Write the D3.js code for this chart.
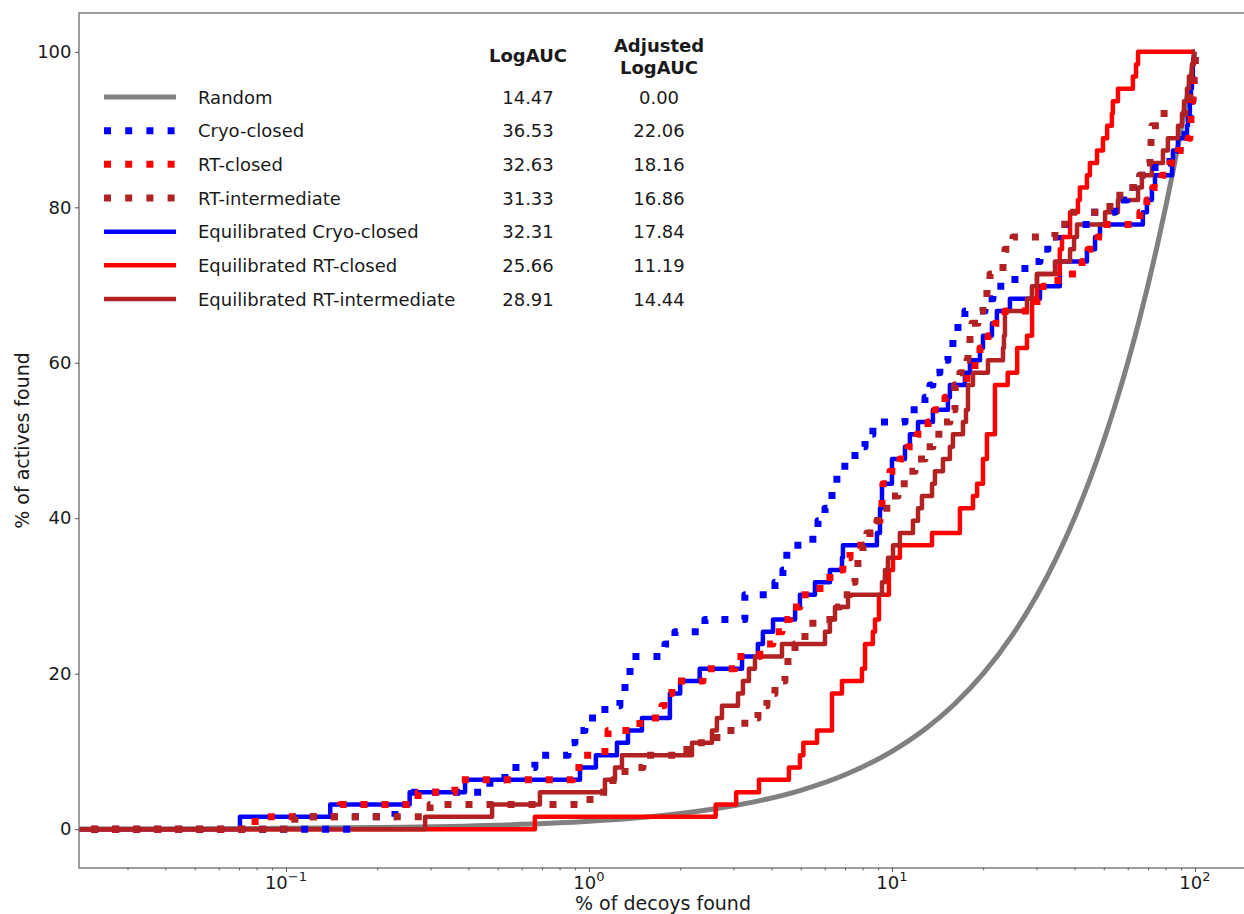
<!DOCTYPE html>
<html><head><meta charset="utf-8">
<script src="https://cdn.jsdelivr.net/npm/d3@7"></script>
<style>body{margin:0;background:#fff} svg{display:block} text{font-family:"DejaVu Sans",sans-serif;fill:#1a1a1a}</style>
</head><body><svg id="c" width="1244" height="914"></svg>
<script>
// ---------- data ----------
const seriesNames = ["Random","Cryo-closed","RT-closed","RT-intermediate","Equilibrated Cryo-closed","Equilibrated RT-closed","Equilibrated RT-intermediate"];
const logAUC = ["14.47","36.53","32.63","31.33","32.31","25.66","28.91"];
const adjLogAUC = ["0.00","22.06","18.16","16.86","17.84","11.19","14.44"];
const xTickValues = [0.1, 1, 10, 100];
const xTickExps = ["\u22121", "0", "1", "2"];
const yTickValues = [0, 20, 40, 60, 80, 100];

// Random: % actives equals % decoys
const randomCurve = [[0.0194,0.0194],[0.05,0.05],[0.1,0.1],[0.2,0.2],[0.5,0.5],[1,1],[2,2],[3,3],[5,5],[7,7],[10,10],[13,13],[16,16],[20,20],[25,25],[30,30],[35,35],[40,40],[45,45],[50,50],[55,55],[60,60],[65,65],[70,70],[75,75],[80,80],[85,85],[90,90],[95,95],[100,100]];

const cryoClosed = [[0.0194,0],[0.163,1.59],[0.229,3.17],[0.256,4.76],[0.471,6.35],[0.528,7.94],[0.663,9.52],[0.853,11.11],[0.899,12.70],[0.970,14.29],[1.129,15.87],[1.265,17.46],[1.315,19.05],[1.366,22.22],[1.782,23.81],[1.922,25.40],[2.414,26.98],[3.27,30.16],[4.11,31.75],[4.366,33.33],[4.498,36.51],[5.483,38.10],[5.70,39.68],[6.012,41.27],[6.34,44.44],[6.58,46.03],[6.99,47.62],[7.55,49.21],[8.15,50.79],[8.65,52.38],[11.04,53.97],[12.85,55.56],[13.35,57.14],[13.65,58.73],[14.39,60.32],[15.30,61.90],[15.89,63.49],[16.51,65.08],[17.41,66.67],[20.27,68.25],[21.54,69.84],[25.46,71.43],[27.47,73.02],[30.8,74.60],[32.7,76.19],[35.3,77.78],[45.0,79.37],[54.4,80.95],[59.7,82.54],[65.8,84.13],[73.8,85.71],[82.7,87.30],[89.2,88.89],[92.7,90.48],[96.2,92.06],[97.7,93.65],[98.4,95.24],[99.2,98.41],[100,100]];

const rtClosed = [[0.0194,0],[0.0791,1.59],[0.151,3.17],[0.273,4.76],[0.361,6.35],[0.885,7.94],[0.955,9.52],[1.129,11.11],[1.156,12.70],[1.473,14.29],[1.741,15.87],[1.769,17.46],[1.879,19.05],[2.378,20.63],[3.034,22.22],[3.665,23.81],[4.045,25.40],[4.335,26.98],[4.603,28.57],[4.966,30.16],[5.785,31.75],[6.24,33.33],[6.887,34.92],[7.27,36.51],[8.46,38.10],[8.92,39.68],[9.13,41.27],[9.27,42.86],[9.34,44.44],[9.85,46.03],[10.62,47.62],[11.29,49.21],[12.1,50.79],[13.15,52.38],[13.86,53.97],[14.96,55.56],[16.14,57.14],[17.68,58.73],[18.79,60.32],[19.52,61.90],[20.74,63.49],[21.87,65.08],[23.6,66.67],[30.1,68.25],[31.5,69.84],[35.3,71.43],[42.4,73.02],[44.4,74.60],[47.8,76.19],[51.3,77.78],[65.8,79.37],[69.4,80.95],[72.6,82.54],[77.8,84.13],[82.7,85.71],[87.9,87.30],[94.8,88.89],[96.2,90.48],[97.0,92.06],[97.7,93.65],[98.4,95.24],[99.2,96.83],[100,100]];

const rtIntermediate = [[0.0194,0],[0.107,1.59],[0.299,3.17],[1.008,4.76],[1.20,6.35],[1.315,7.94],[1.507,9.52],[2.105,11.11],[2.644,12.70],[3.27,14.29],[3.613,15.87],[3.867,17.46],[4.11,19.05],[4.434,20.63],[4.536,22.22],[4.786,23.81],[5.163,25.40],[5.483,26.98],[6.24,28.57],[6.73,30.16],[7.27,31.75],[7.55,33.33],[7.72,34.92],[8.02,36.51],[8.27,38.10],[8.46,39.68],[8.99,41.27],[10.0,42.86],[10.47,44.44],[11.29,46.03],[11.91,47.62],[12.85,49.21],[13.65,50.79],[14.73,52.38],[15.53,53.97],[16.14,57.14],[16.76,58.73],[17.68,60.32],[17.82,61.90],[18.09,63.49],[18.37,65.08],[19.23,66.67],[19.97,68.25],[20.58,69.84],[21.06,71.43],[23.25,73.02],[23.6,74.60],[25.08,76.19],[34.5,77.78],[37.2,79.37],[52.4,80.95],[56.5,82.54],[65.8,84.13],[69.4,85.71],[71.0,87.30],[71.6,88.89],[72.1,90.48],[76.6,92.06],[92.7,93.65],[96.2,95.24],[98.4,96.83],[99.2,98.41],[100,100]];

const eqCryoClosed = [[0.0194,0],[0.0705,1.59],[0.140,3.17],[0.256,4.76],[0.390,6.35],[0.934,7.94],[1.054,9.52],[1.237,11.11],[1.345,12.70],[1.496,14.29],[1.85,17.46],[2.0,19.05],[2.32,20.63],[3.20,22.22],[3.61,23.81],[3.75,25.40],[4.05,26.98],[4.79,28.57],[4.97,30.16],[5.57,31.75],[6.24,33.33],[6.84,34.92],[6.89,36.51],[8.92,38.10],[9.13,41.27],[9.27,44.44],[10.0,47.62],[11.04,49.21],[11.46,50.79],[12.19,52.38],[13.65,53.97],[15.30,55.56],[15.53,57.14],[17.41,58.73],[18.09,60.32],[19.52,61.90],[19.97,63.49],[21.38,65.08],[22.2,66.67],[24.51,68.25],[30.8,69.84],[35.8,73.02],[44.0,74.60],[46.8,76.19],[48.6,77.78],[67.3,79.37],[69.4,80.95],[72.1,82.54],[73.8,84.13],[84.0,85.71],[84.6,87.30],[87.9,88.89],[94.1,90.48],[94.8,92.06],[96.2,93.65],[97.0,95.24],[97.7,96.83],[98.4,98.41],[99.2,100],[100,100]];

const eqRtClosed = [[0.0194,0],[0.663,1.59],[2.62,3.17],[3.06,4.76],[3.64,6.35],[4.57,7.94],[4.97,9.52],[5.10,11.11],[5.66,12.70],[6.34,17.46],[6.84,19.05],[7.96,20.63],[8.15,23.81],[8.65,25.40],[8.79,26.98],[9.06,30.16],[9.77,33.33],[10.08,34.92],[10.62,36.51],[13.56,38.10],[16.76,41.27],[18.51,42.86],[19.1,44.44],[19.97,47.62],[20.58,50.79],[21.87,57.14],[24.1,58.73],[25.9,61.90],[27.9,63.49],[29.0,68.25],[30.1,71.43],[35.8,74.60],[36.4,76.19],[38.7,79.37],[41.1,80.95],[41.7,82.54],[44.0,84.13],[45.0,85.71],[47.5,87.30],[49.7,88.89],[51.3,90.48],[53.2,92.06],[53.6,93.65],[55.7,95.24],[62.4,96.83],[63.9,98.41],[64.9,100],[100,100]];

const eqRtIntermediate = [[0.0194,0],[0.288,1.59],[0.479,3.17],[0.689,4.76],[1.129,6.35],[1.219,7.94],[1.285,9.52],[2.188,11.11],[2.547,12.70],[2.644,14.29],[2.748,15.87],[3.104,17.46],[3.222,19.05],[3.373,20.63],[3.531,22.22],[4.335,23.81],[6.012,25.40],[6.24,26.98],[6.486,28.57],[7.16,30.16],[9.27,31.75],[9.48,33.33],[9.70,34.92],[10.08,36.51],[10.62,38.10],[11.73,39.68],[12.19,41.27],[12.56,42.86],[13.56,44.44],[13.86,46.03],[14.73,47.62],[15.53,49.21],[15.89,50.79],[17.15,52.38],[17.55,53.97],[17.82,57.14],[18.51,58.73],[20.74,60.32],[23.25,61.90],[23.42,63.49],[23.6,66.67],[27.89,68.25],[28.97,69.84],[30.1,71.43],[34.5,73.02],[38.7,74.60],[39.9,76.19],[40.8,77.78],[50.5,79.37],[55.7,80.95],[64.9,82.54],[66.8,84.13],[72.1,85.71],[78.4,87.30],[81.4,88.89],[87.9,90.48],[90.6,92.06],[92.0,93.65],[94.1,95.24],[95.5,96.83],[97.7,98.41],[99.2,100],[100,100]];

// ---------- styles ----------
const styles = [
  {data: randomCurve, color: "#808080", width: 5, dash: null, curve: d3.curveMonotoneX},
  {data: cryoClosed, color: "#0000ff", width: 7, dash: "7,14", curve: d3.curveStepAfter},
  {data: rtClosed, color: "#ff0000", width: 7, dash: "7,14", curve: d3.curveStepAfter},
  {data: rtIntermediate, color: "#b22222", width: 7, dash: "7,14", curve: d3.curveStepAfter},
  {data: eqCryoClosed, color: "#0000ff", width: 4.5, dash: null, curve: d3.curveStepAfter},
  {data: eqRtClosed, color: "#ff0000", width: 4.5, dash: null, curve: d3.curveStepAfter},
  {data: eqRtIntermediate, color: "#b22222", width: 4.5, dash: null, curve: d3.curveStepAfter}
];
const drawOrder = [0, 4, 5, 6, 1, 2, 3];

// ---------- chart ----------
const svg = d3.select("#c");
const P = {left: 79, top: 13, right: 1247, bottom: 868};
const x = d3.scaleLog().domain([0.02075, 148.5]).range([P.left, P.right]);
const y = d3.scaleLinear().domain([-5, 105]).range([P.bottom, P.top]);

svg.append("defs").append("clipPath").attr("id","clip")
  .append("rect").attr("x",P.left).attr("y",P.top).attr("width",P.right-P.left).attr("height",P.bottom-P.top);

const gLines = svg.append("g").attr("clip-path","url(#clip)");
drawOrder.forEach(i => {
  const s = styles[i];
  const line = d3.line().x(d => x(d[0])).y(d => y(d[1])).curve(s.curve);
  gLines.append("path").attr("d", line(s.data))
    .attr("fill","none").attr("stroke", s.color).attr("stroke-width", s.width)
    .attr("stroke-dasharray", s.dash).attr("stroke-linecap","butt").attr("stroke-linejoin","round");
});

// frame
svg.append("rect").attr("x",P.left).attr("y",P.top).attr("width",P.right-P.left).attr("height",P.bottom-P.top)
  .attr("fill","none").attr("stroke","#6a6a6a").attr("stroke-width",1.3);

// y axis
const gy = svg.append("g").attr("transform",`translate(${P.left},0)`)
  .call(d3.axisLeft(y).tickValues(yTickValues).tickSize(4).tickPadding(3.5));
gy.select(".domain").remove();
gy.selectAll("line").attr("stroke","#555");
gy.selectAll("text").style("font-size","18px").style("font-family","DejaVu Sans").attr("fill","#1a1a1a");

// x axis ticks
const minorTicks = [];
[0.01,0.1,1,10,100].forEach(b => { for (let m = 2; m <= 9; m++) { const v = b*m; if (v > x.domain()[0] && v < x.domain()[1]) minorTicks.push(v); } });
const gxm = svg.append("g").attr("transform",`translate(0,${P.bottom})`)
  .call(d3.axisBottom(x).tickValues(minorTicks).tickSize(2.2).tickFormat(""));
gxm.select(".domain").remove();
gxm.selectAll("line").attr("stroke","#555");
const gx = svg.append("g").attr("transform",`translate(0,${P.bottom})`)
  .call(d3.axisBottom(x).tickValues(xTickValues).tickSize(4).tickFormat(""));
gx.select(".domain").remove();
gx.selectAll("line").attr("stroke","#555");
xTickValues.forEach((v, i) => {
  const t = svg.append("text").attr("x", x(v)).attr("y", 889).attr("text-anchor","middle").style("font-size","18px");
  t.append("tspan").text("10");
  t.append("tspan").attr("dy", -8).style("font-size","13px").text(xTickExps[i]);
});

// axis labels
svg.append("text").attr("x",(P.left+P.right)/2).attr("y",910).attr("text-anchor","middle")
  .style("font-size","19px").text("% of decoys found");
svg.append("text").attr("transform",`translate(29,${(P.top+P.bottom)/2}) rotate(-90)`).attr("text-anchor","middle")
  .style("font-size","19px").text("% of actives found");

// legend table
const rowY0 = 97, rowStep = 33.67;
const gL = svg.append("g");
seriesNames.forEach((name, i) => {
  const s = styles[i];
  const yy = rowY0 + i*rowStep;
  gL.append("line").attr("x1",104).attr("x2",176).attr("y1",yy).attr("y2",yy)
    .attr("stroke",s.color).attr("stroke-width", s.dash ? 7 : s.width).attr("stroke-dasharray", s.dash ? "7,14.2" : null);
  gL.append("text").attr("x",198).attr("y",yy).attr("dominant-baseline","central").style("font-size","18px").text(name);
  gL.append("text").attr("x",528).attr("y",yy).attr("dominant-baseline","central").attr("text-anchor","middle").style("font-size","18px").text(logAUC[i]);
  gL.append("text").attr("x",659).attr("y",yy).attr("dominant-baseline","central").attr("text-anchor","middle").style("font-size","18px").text(adjLogAUC[i]);
});
gL.append("text").attr("x",528).attr("y",55).attr("dominant-baseline","central").attr("text-anchor","middle")
  .style("font-size","18px").style("font-weight","bold").text("LogAUC");
gL.append("text").attr("x",659).attr("y",45).attr("dominant-baseline","central").attr("text-anchor","middle")
  .style("font-size","18px").style("font-weight","bold").text("Adjusted");
gL.append("text").attr("x",659).attr("y",67).attr("dominant-baseline","central").attr("text-anchor","middle")
  .style("font-size","18px").style("font-weight","bold").text("LogAUC");
</script></body></html>
